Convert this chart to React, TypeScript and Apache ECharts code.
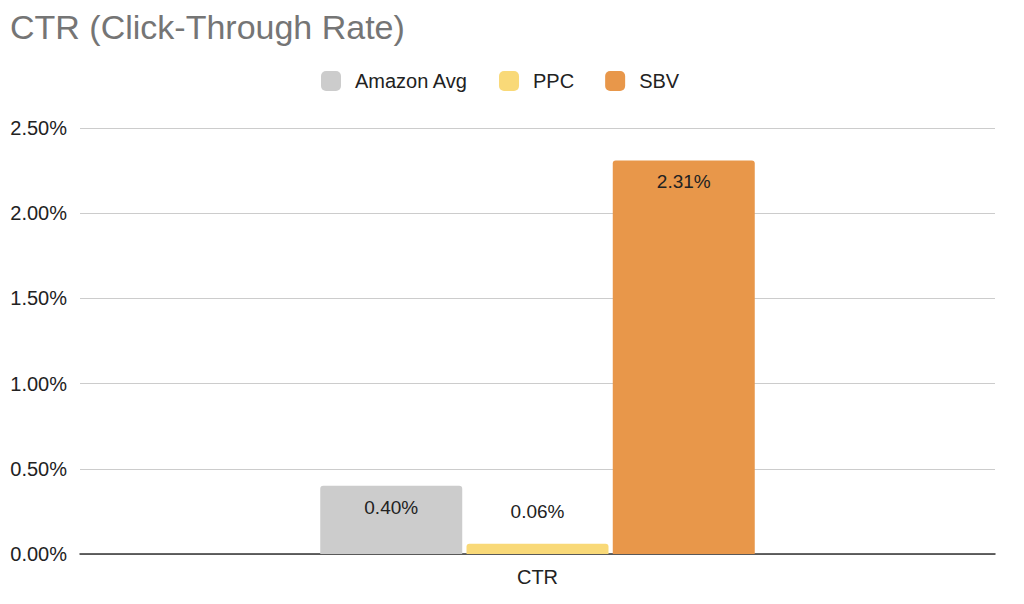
import React, { useEffect, useRef } from "react";
import * as echarts from "echarts";

const categories = ["CTR"];
const seriesNames = ["Amazon Avg", "PPC", "SBV"];
const amazonAvg = [0.4];
const ppc = [0.06];
const sbv = [2.31];
const colors = ["#cccccc", "#f9d978", "#e8974a"];

export default function App() {
  const ref = useRef<HTMLDivElement>(null);
  useEffect(() => {
    const chart = echarts.init(ref.current!, null, { renderer: "svg" });
    const font = "'Liberation Sans', Arial, sans-serif";
    const mk = (name: string, data: number[], color: string, inside: boolean) => ({
      name,
      type: "bar",
      data,
      barWidth: 142,
      barGap: "3%",
      itemStyle: { color, borderRadius: [3, 3, 0, 0] },
      label: {
        show: true,
        position: inside ? "insideTop" : "top",
        distance: inside ? 12 : 23,
        formatter: (p: any) => p.value.toFixed(2) + "%",
        fontSize: 19,
        fontFamily: font,
        color: "#222222",
      },
    });
    chart.setOption({
      animation: false,
      title: {
        text: "CTR (Click-Through Rate)",
        left: 10,
        top: 10,
        padding: 0,
        textStyle: { fontSize: 34, fontWeight: "normal", color: "#757575", fontFamily: font },
      },
      legend: {
        top: 71,
        left: 321,
        padding: 0,
        itemWidth: 20,
        itemHeight: 20,
        itemGap: 31,
        icon: "roundRect",
        textStyle: { fontSize: 20, color: "#222222", fontFamily: font, padding: [0, 0, 0, 9] },
        data: seriesNames,
      },
      grid: { left: 80, right: 29, top: 128, bottom: 50, containLabel: false },
      xAxis: {
        type: "category",
        data: categories,
        axisLine: { lineStyle: { color: "#333333", width: 1.5 } },
        axisTick: { show: false },
        axisLabel: { fontSize: 20, color: "#222222", fontFamily: font, margin: 13 },
      },
      yAxis: {
        type: "value",
        min: 0,
        max: 2.5,
        interval: 0.5,
        axisLine: { show: false },
        axisTick: { show: false },
        splitLine: { lineStyle: { color: "#cccccc", width: 1 } },
        axisLabel: {
          fontSize: 20,
          color: "#222222",
          fontFamily: font,
          margin: 13,
          formatter: (v: number) => v.toFixed(2) + "%",
        },
      },
      series: [
        mk(seriesNames[0], amazonAvg, colors[0], true),
        mk(seriesNames[1], ppc, colors[1], false),
        mk(seriesNames[2], sbv, colors[2], true),
      ],
    });
    return () => chart.dispose();
  }, []);
  return (
    <div
      ref={ref}
      style={{ position: "absolute", left: 0, top: 0, width: 1024, height: 604 }}
    />
  );
}
